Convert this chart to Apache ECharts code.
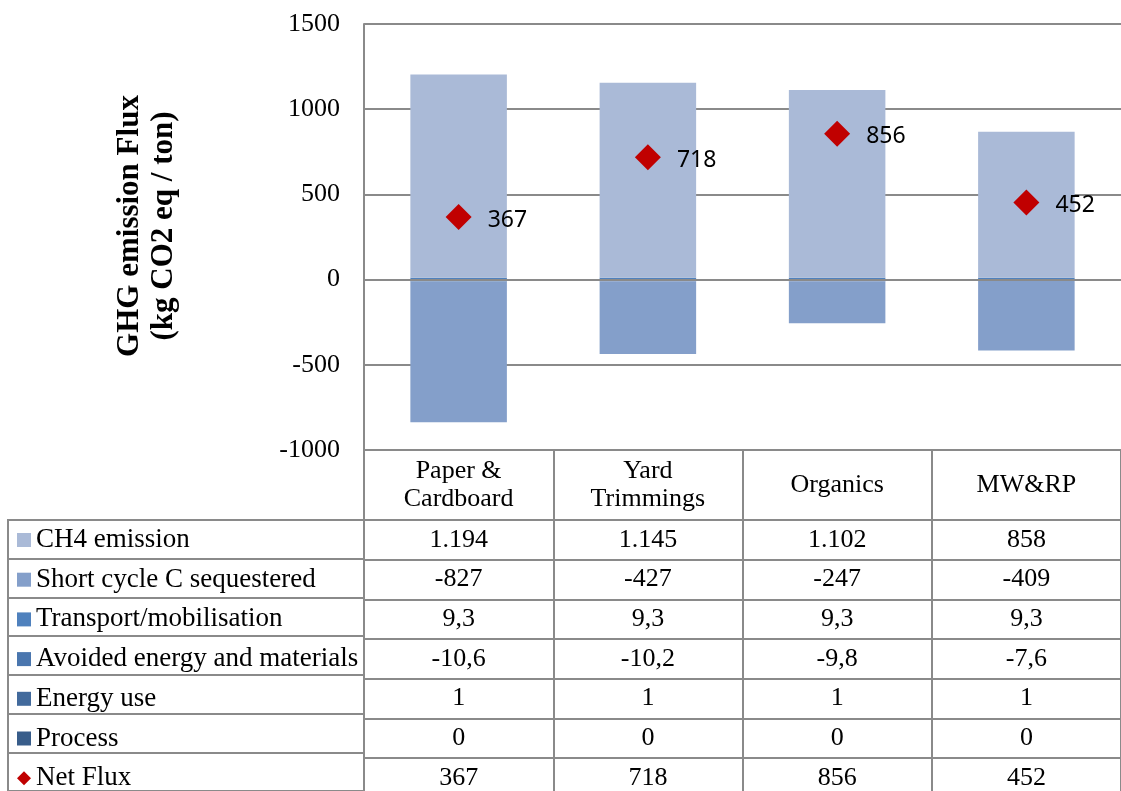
<!DOCTYPE html>
<html>
<head>
<meta charset="utf-8">
<script src="https://cdn.jsdelivr.net/npm/echarts@6/dist/echarts.min.js"></script>
<style>
  html, body { margin: 0; padding: 0; background: #fff; }
  #chart { width: 1121px; height: 791px; }
</style>
</head>
<body>
<div id="chart"></div>
<script>
// categories and table values
var categories = ['Paper &\nCardboard', 'Yard\nTrimmings', 'Organics', 'MW&RP'];
var ch4Emission = [1194, 1145, 1102, 858];
var shortCycleC = [-827, -427, -247, -409];
var transport = [9.3, 9.3, 9.3, 9.3];
var avoidedEnergy = [-10.6, -10.2, -9.8, -7.6];
var energyUse = [1, 1, 1, 1];
var processEm = [0, 0, 0, 0];
var netFlux = [367, 718, 856, 452];
var yTicks = { min: -1000, max: 1500, interval: 500 };

var barNames = ['CH4 emission', 'Short cycle C sequestered', 'Transport/mobilisation',
  'Avoided energy and materials', 'Energy use', 'Process'];
var barData = [ch4Emission, shortCycleC, transport, avoidedEnergy, energyUse, processEm];
var barColors = ['#AABAD7', '#849FCA', '#4F81BD', '#4A76AE', '#426A9C', '#385D8A'];
// small series sit next to zero, the big ones stack on them
var stackOrder = [2, 3, 4, 5, 0, 1];

var gray = '#8a8a8a';
var serif = '"Liberation Serif", "Times New Roman", serif';
var rowH = 39.7;

// 1194 -> "1.194", 9.3 -> "9,3"
function fmt(v) {
  var neg = v < 0;
  var parts = String(Math.abs(v)).split('.');
  var intPart = parts[0].replace(/\B(?=(\d{3})+(?!\d))/g, '.');
  var s = intPart + (parts[1] ? ',' + parts[1] : '');
  return (neg ? '-' : '') + s;
}

var chart = echarts.init(document.getElementById('chart'));

var xAxes = [{
  type: 'category',
  gridIndex: 0,
  position: 'bottom',
  data: categories,
  axisLine: { onZero: false, lineStyle: { color: gray, width: 2 } },
  axisTick: { show: true, length: 70, lineStyle: { color: gray, width: 2 } },
  axisLabel: {
    interval: 0, margin: 35, verticalAlign: 'middle',
    fontFamily: serif, fontSize: 26, lineHeight: 28, color: '#000'
  },
  splitLine: { show: false }
}];

var tableRows = barData.concat([netFlux]);
tableRows.forEach(function (row, k) {
  xAxes.push({
    type: 'category',
    gridIndex: 0,
    position: 'bottom',
    offset: 70 + rowH * k,
    data: row.map(fmt),
    axisLine: { onZero: false, lineStyle: { color: gray, width: 2 } },
    axisTick: { show: true, length: rowH, lineStyle: { color: gray, width: 2 } },
    axisLabel: {
      interval: 0, margin: rowH / 2, verticalAlign: 'middle',
      fontFamily: serif, fontSize: 26, color: '#000'
    },
    splitLine: { show: false }
  });
});

// left column of the table (legend cells)
xAxes.push({ type: 'value', gridIndex: 1, show: false });

var series = stackOrder.map(function (i) {
  return {
    name: barNames[i],
    type: 'bar',
    stack: 'total',
    xAxisIndex: 0,
    yAxisIndex: 0,
    barWidth: '51%',
    itemStyle: { color: barColors[i] },
    data: barData[i]
  };
});

series.push({
  name: 'Net Flux',
  type: 'scatter',
  xAxisIndex: 0,
  yAxisIndex: 0,
  symbol: 'diamond',
  symbolSize: 26,
  z: 5,
  itemStyle: { color: '#C00000', opacity: 1 },
  label: {
    show: true, position: 'right', distance: 16, offset: [0, 3],
    fontFamily: '"Noto Sans", sans-serif', fontSize: 23, color: '#000'
  },
  markLine: {
    silent: true,
    symbol: 'none',
    label: { show: false },
    lineStyle: { color: gray, width: 2, type: 'solid' },
    data: [{ yAxis: 0 }]
  },
  data: netFlux
});

var legendItems = barNames.map(function (n) {
  return { name: n, icon: 'rect' };
});
legendItems.push({ name: 'Net Flux', icon: 'diamond' });

chart.setOption({
  animation: false,
  backgroundColor: '#fff',
  grid: [
    { left: 364, top: 24, width: 765, height: 426 },
    { left: 8, top: 520, width: 356, height: rowH * 7, show: true,
      borderColor: gray, borderWidth: 2, backgroundColor: 'transparent' }
  ],
  legend: {
    orient: 'vertical',
    left: 17,
    top: 526,
    height: 320,
    padding: 0,
    itemWidth: 14,
    itemHeight: 14,
    itemGap: rowH - 28,
    selectedMode: false,
    textStyle: { fontFamily: serif, fontSize: 27, lineHeight: 28, color: '#000' },
    data: legendItems
  },
  graphic: [{
    type: 'text',
    x: 147,
    y: 226,
    rotation: Math.PI / 2,
    style: {
      text: 'GHG emission Flux\n(kg CO2 eq / ton)',
      font: 'bold 31px ' + serif,
      lineHeight: 34.5,
      fill: '#000',
      align: 'center',
      verticalAlign: 'middle'
    }
  }],
  xAxis: xAxes,
  yAxis: [{
    type: 'value',
    gridIndex: 0,
    min: yTicks.min,
    max: yTicks.max,
    interval: yTicks.interval,
    axisLine: { show: true, lineStyle: { color: gray, width: 2 } },
    axisTick: { show: false },
    axisLabel: {
      fontFamily: serif, fontSize: 26, color: '#000', margin: 24,
      formatter: function (v) { return String(v); }
    },
    splitLine: { lineStyle: { color: gray, width: 2 } }
  }, {
    type: 'category',
    gridIndex: 1,
    data: ['', '', '', '', '', '', ''],
    axisLine: { show: false },
    axisTick: { show: false },
    axisLabel: { show: false },
    splitLine: { show: true, interval: 0, lineStyle: { color: gray, width: 2 } }
  }],
  series: series
});
</script>
</body>
</html>
